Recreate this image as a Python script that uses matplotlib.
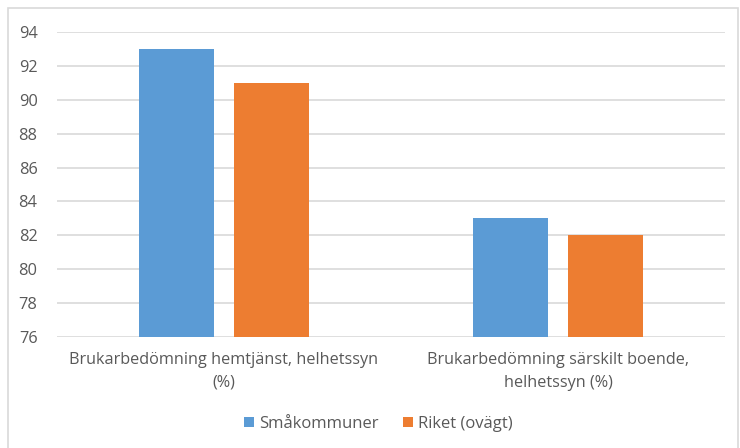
import matplotlib
matplotlib.use("Agg")
import matplotlib.pyplot as plt
from matplotlib.patches import Rectangle
import numpy as np

categories = ["Brukarbedömning hemtjänst, helhetssyn\n(%)",
              "Brukarbedömning särskilt boende,\nhelhetssyn (%)"]
series_names = ["Småkommuner", "Riket (ovägt)"]
smakommuner = [93, 83]
riket = [91, 82]
yticks = [76, 78, 80, 82, 84, 86, 88, 90, 92, 94]

colors = ["#5B9BD5", "#ED7D31"]
text_color = "#595959"
grid_color = "#D9D9D9"

plt.rcParams['font.family'] = ['Open Sans', 'DejaVu Sans']

fig = plt.figure(figsize=(7.4, 4.48), dpi=100)
ax = fig.add_axes([57/740, 1-337/448, (725-57)/740, (337-32)/448])

x = np.arange(len(categories))
w = 0.225
off = 0.1425
ax.bar(x - off, smakommuner, w, color=colors[0], label=series_names[0], zorder=3)
ax.bar(x + off, riket, w, color=colors[1], label=series_names[1], zorder=3)

ax.set_xlim(-0.5, 1.5)
ax.set_ylim(76, 94)
ax.set_yticks(yticks)
ax.set_yticklabels([str(v) for v in yticks], fontsize=11.8, color=text_color)
ax.set_xticks(x)
ax.set_xticklabels(categories, fontsize=11.7, color=text_color, linespacing=1.55)
ax.tick_params(axis='both', length=0)
ax.tick_params(axis='y', pad=14)
ax.tick_params(axis='x', pad=11)
ax.yaxis.grid(True, color=grid_color, linewidth=1.2, zorder=0)
for s in ax.spines.values():
    s.set_visible(False)

leg = fig.legend(loc='center', bbox_to_anchor=(0.5 + 8/740, 1-424/448), ncol=2, frameon=False,
                 fontsize=12, handlelength=0.6, handleheight=0.6, columnspacing=1.45,
                 handletextpad=0.3)
for t in leg.get_texts():
    t.set_color(text_color)

fig.patches.append(Rectangle((8/740, -0.01), (738-8)/740, 1-8/448+0.01, transform=fig.transFigure,
                             fill=False, edgecolor="#D9D9D9", linewidth=1.2))

fig.savefig("out.png", dpi=100)
